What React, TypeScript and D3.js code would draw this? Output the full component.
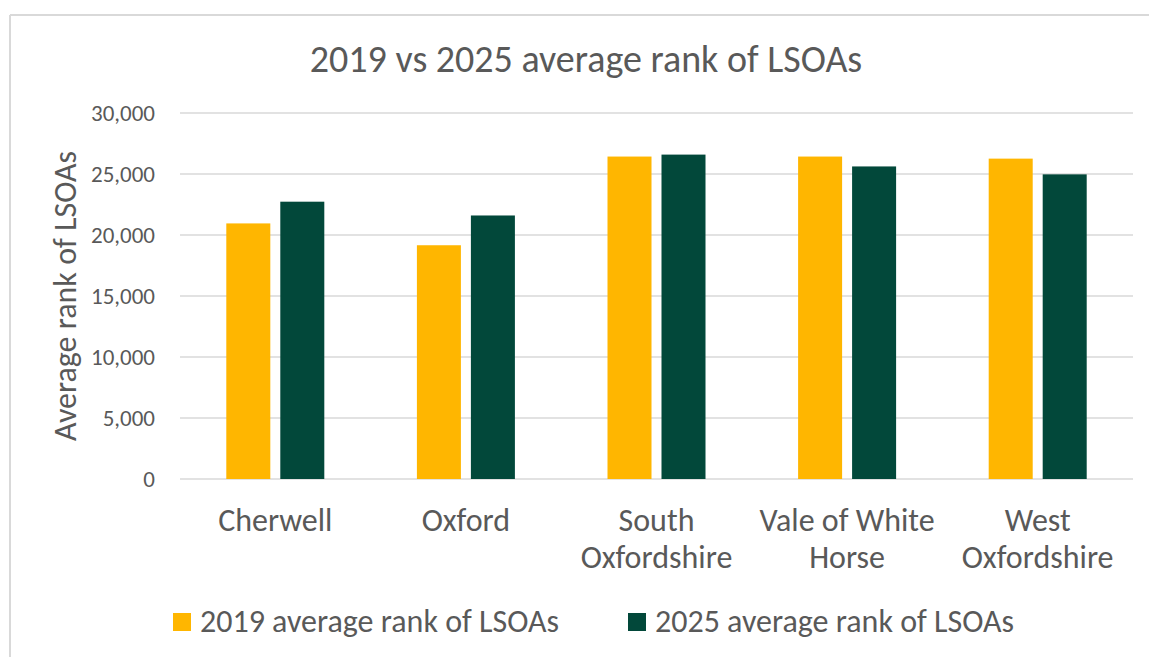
import React from "react";
import * as d3 from "d3";

const categories = ["Cherwell", "Oxford", "South Oxfordshire", "Vale of White Horse", "West Oxfordshire"];
const seriesNames = ["2019 average rank of LSOAs", "2025 average rank of LSOAs"];
const values2019 = [20950, 19160, 26430, 26430, 26260];
const values2025 = [22730, 21600, 26590, 25620, 24970];
const yTicks = [0, 5000, 10000, 15000, 20000, 25000, 30000];

const COLORS = ["#FFB600", "#02483A"];
const TEXT = "#595959";
const GRID = "#D9D9D9";
const FONT = "Carlito, 'Liberation Sans Narrow', 'Open Sans', sans-serif";

const width = 1149;
const height = 657;
const plot = { left: 180, right: 1133, top: 113, bottom: 479 };

// greedy word wrap, roughly what Excel does on the category axis
const wrap = (s: string, max = 13) => {
    const lines: string[] = [];
    let cur = "";
    s.split(" ").forEach((w) => {
        const next = cur ? cur + " " + w : w;
        if (next.length > max && cur) {
            lines.push(cur);
            cur = w;
        } else {
            cur = next;
        }
    });
    if (cur) lines.push(cur);
    return lines;
};

const App = () => {
    const x = d3.scaleBand<string>().domain(categories).range([plot.left, plot.right]);
    const step = x.bandwidth();
    const inner = d3
        .scaleBand<number>()
        .domain([0, 1])
        .range([step / 2 - 49, step / 2 + 49])
        .paddingInner(0.185);
    const y = d3.scaleLinear().domain([0, 30000]).range([plot.bottom, plot.top]);
    const fmt = d3.format(",");
    const series = [values2019, values2025];

    const legendX = [173, 628];

    return (
        <svg
            width={width}
            height={height}
            style={{ position: "absolute", left: 0, top: 0, background: "#fff" }}
            fontFamily={FONT}
        >
            {/* chart frame (only top/left visible in the crop) */}
            <line x1={10} x2={width} y1={15} y2={15} stroke={GRID} strokeWidth={2} />
            <line x1={10} x2={10} y1={15} y2={height} stroke={GRID} strokeWidth={2} />

            <text x={586} y={72} textAnchor="middle" fontSize={38} fill={TEXT}>
                2019 vs 2025 average rank of LSOAs
            </text>

            {/* gridlines + y tick labels */}
            {yTicks.map((t) => (
                <g key={t}>
                    <line
                        x1={plot.left}
                        x2={plot.right}
                        y1={y(t)}
                        y2={y(t)}
                        stroke={GRID}
                        strokeWidth={1.5}
                    />
                    <text x={155} y={y(t)} dy="0.35em" textAnchor="end" fontSize={23} fill={TEXT}>
                        {fmt(t)}
                    </text>
                </g>
            ))}

            <text
                transform={`translate(76, ${(plot.top + plot.bottom) / 2}) rotate(-90)`}
                textAnchor="middle"
                fontSize={32}
                fill={TEXT}
            >
                Average rank of LSOAs
            </text>

            {/* bars */}
            {categories.map((c, i) => (
                <g key={c} transform={`translate(${x(c)}, 0)`}>
                    {series.map((vals, s) => (
                        <rect
                            key={s}
                            x={inner(s)}
                            y={y(vals[i])}
                            width={inner.bandwidth()}
                            height={y(0) - y(vals[i])}
                            fill={COLORS[s]}
                        />
                    ))}
                </g>
            ))}

            {/* category labels */}
            {categories.map((c) => (
                <text key={c} x={(x(c) as number) + step / 2} y={531} textAnchor="middle" fontSize={32} fill={TEXT}>
                    {wrap(c).map((line, k) => (
                        <tspan key={k} x={(x(c) as number) + step / 2} dy={k === 0 ? 0 : 37}>
                            {line}
                        </tspan>
                    ))}
                </text>
            ))}

            {/* legend */}
            {seriesNames.map((name, s) => (
                <g key={name} transform={`translate(${legendX[s]}, 613)`}>
                    <rect width={18} height={18} fill={COLORS[s]} />
                    <text x={27} y={19} fontSize={32} fill={TEXT}>
                        {name}
                    </text>
                </g>
            ))}
        </svg>
    );
};

export default App;
